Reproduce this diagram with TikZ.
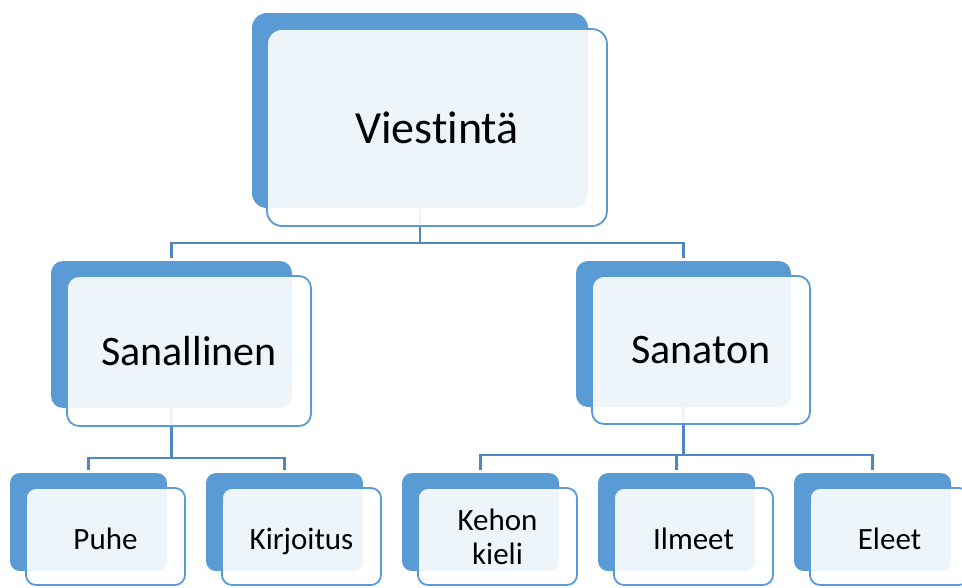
\documentclass[tikz,border=0pt]{standalone}
\usepackage{fontspec}
\setmainfont{Carlito}[Ligatures=NoCommon]
\definecolor{accent}{HTML}{5B9BD5}
\definecolor{linkblue}{HTML}{4F87C3}

\begin{document}
\begin{tikzpicture}[x=1pt,y=-1pt,
        backbox/.style={fill=accent,draw=none,inner sep=0pt,outer sep=0pt},
        frontbox/.style={draw=accent,line width=1.8pt,fill=white,fill opacity=0.9,text opacity=1,
            rounded corners=#1,inner sep=0pt,outer sep=0pt,anchor=north west},
        connector/.style={draw=linkblue,line width=2.2pt,shorten >=3pt},
        toptext/.style={font=\fontsize{46}{50}\selectfont},
        midtext/.style={font=\fontsize{42}{46}\selectfont},
        lowtext/.style={font=\fontsize{31}{34}\selectfont,text height=25pt,text depth=0pt},
        twoline/.style={font=\fontsize{31}{34}\selectfont,align=center}]
        \useasboundingbox (0,0) rectangle (962,587);

        \node[backbox,rounded corners=15pt,minimum width=336pt,minimum height=195pt] (viestinta) at (420,110.5) {};
        \node[backbox,rounded corners=12pt,minimum width=241pt,minimum height=147pt] (sanallinen) at (171.5,334.5) {};
        \node[backbox,rounded corners=12pt,minimum width=215pt,minimum height=146pt] (sanaton) at (683.5,334) {};
        \foreach \name/\x in {puhe/88.5,kirjoitus/284.5,kehon/480.5,ilmeet/676.5,eleet/872.5}
            \node[backbox,rounded corners=10pt,minimum width=157pt,minimum height=98pt] (\name) at (\x,522) {};

        \draw[connector] (viestinta.south) -- ++(0,35) -| (sanallinen.north);
        \draw[connector] (viestinta.south) -- ++(0,35) -| (sanaton.north);
        \foreach \child in {puhe,kirjoitus}
            \draw[connector] (sanallinen.south) -- ++(0,50) -| (\child.north);
        \foreach \child in {kehon,ilmeet,eleet}
            \draw[connector] (sanaton.south) -- ++(0,48) -| (\child.north);

        \node[frontbox=15pt,minimum width=340pt,minimum height=197pt,toptext] (viestinta-f) at ([shift={(15pt,-16pt)}]viestinta.north west) {Viestintä};
        \node[frontbox=12pt,minimum width=244pt,minimum height=150pt,midtext] (sanallinen-f) at ([shift={(16pt,-15pt)}]sanallinen.north west) {Sanallinen};
        \node[frontbox=12pt,minimum width=218pt,minimum height=148pt,midtext] (sanaton-f) at ([shift={(16pt,-15pt)}]sanaton.north west) {Sanaton};
        \foreach \name/\label in {puhe/Puhe,kirjoitus/Kirjoitus,ilmeet/Ilmeet,eleet/Eleet}
            \node[frontbox=10pt,minimum width=159pt,minimum height=97pt,lowtext] (\name-f) at ([shift={(16pt,-15pt)}]\name.north west) {\label};
        \node[frontbox=10pt,minimum width=159pt,minimum height=97pt,twoline] (kehon-f) at ([shift={(16pt,-15pt)}]kehon.north west) {Kehon\\kieli};
\end{tikzpicture}
\end{document}
